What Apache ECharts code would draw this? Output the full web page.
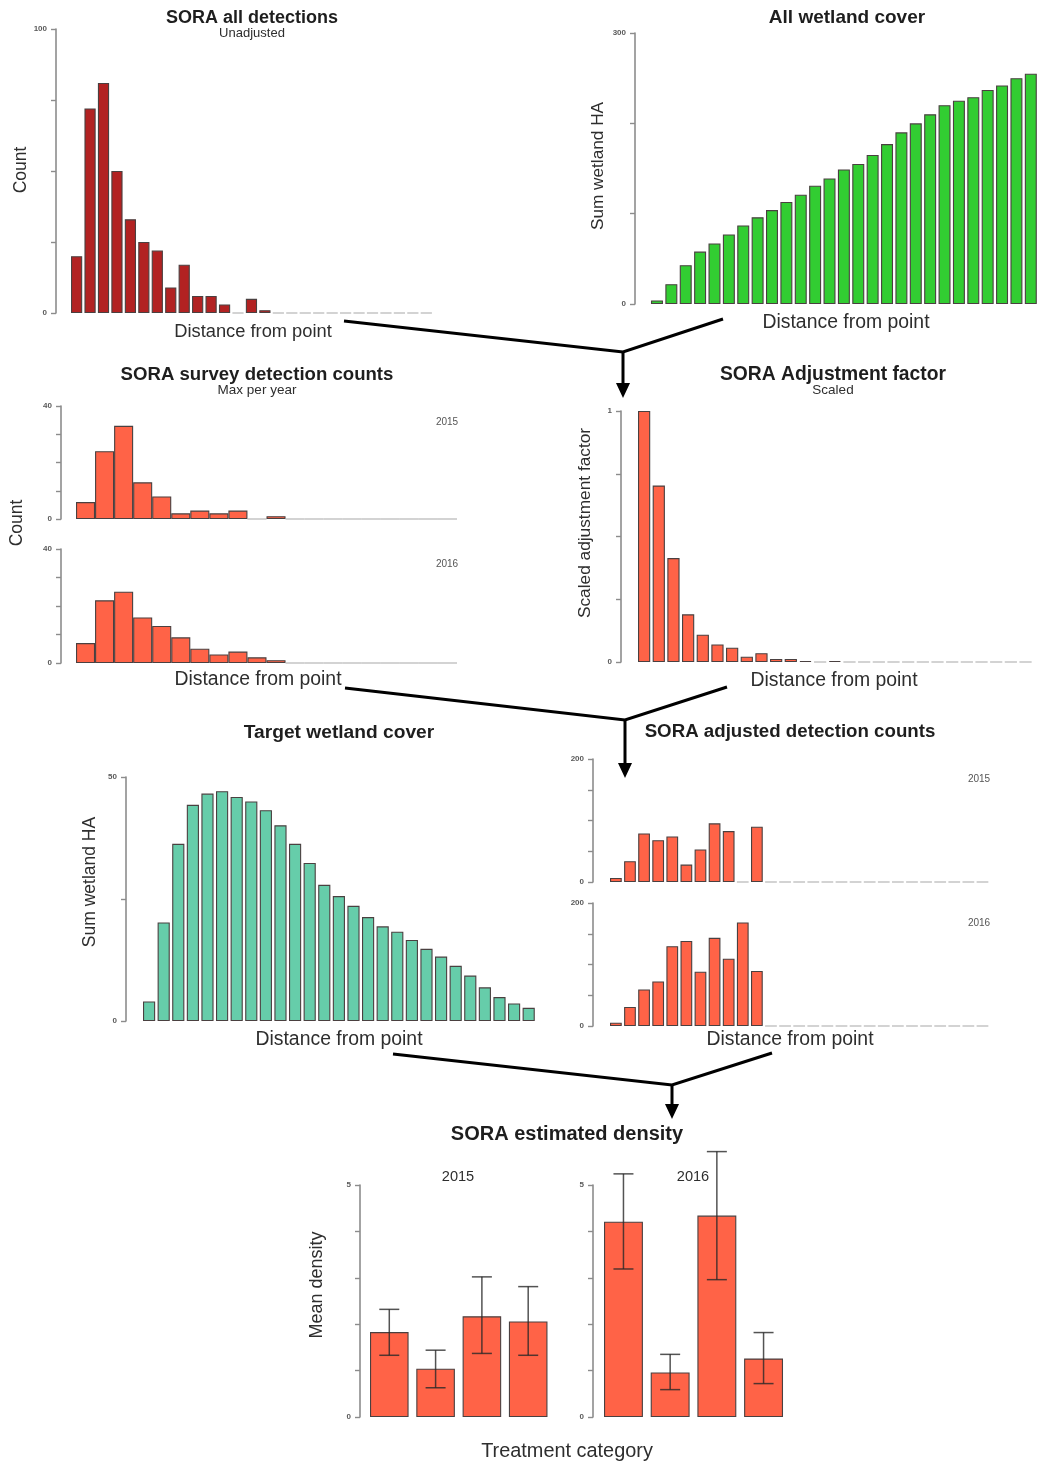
<!DOCTYPE html>
<html>
<head>
<meta charset="utf-8">
<script src="https://cdn.jsdelivr.net/npm/echarts@6/dist/echarts.min.js"></script>
<style>
  html, body { margin: 0; padding: 0; background: #fff; }
  #chart { width: 1038px; height: 1465px; }
</style>
</head>
<body>
<div id="chart"></div>
<script>
// ---- Data -------------------------------------------------------------
// distance bins (27 for wetland / detection rasters, 20 for survey histograms)
const distanceBins27 = ['1','2','3','4','5','6','7','8','9','10','11','12','13','14','15','16','17','18','19','20','21','22','23','24','25','26','27'];
const distanceBins20 = ['1','2','3','4','5','6','7','8','9','10','11','12','13','14','15','16','17','18','19','20'];
const treatments = ['T1', 'T2', 'T3', 'T4'];

const allDetections = [20, 72, 81, 50, 33, 25, 22, 9, 17, 6, 6, 3, 0, 5, 1, 0, 0, 0, 0, 0, 0, 0, 0, 0, 0, 0, 0];
const allWetland = [4, 22, 43, 58, 67, 77, 87, 96, 104, 113, 121, 131, 139, 149, 155, 165, 177, 190, 200, 210, 220, 225, 229, 237, 242, 250, 255];

const survey2015 = [6, 24, 33, 13, 8, 2, 3, 2, 3, 0, 1, 0, 0, 0, 0, 0, 0, 0, 0, 0];
const survey2016 = [7, 22, 25, 16, 13, 9, 5, 3, 4, 2, 1, 0, 0, 0, 0, 0, 0, 0, 0, 0];

const adjustmentFactor = [1.0, 0.703, 0.414, 0.19, 0.109, 0.07, 0.057, 0.021, 0.035, 0.012, 0.012, 0.004, 0, 0.004, 0, 0, 0, 0, 0, 0, 0, 0, 0, 0, 0, 0, 0];

const targetWetland = [4, 20.2, 36.3, 44.3, 46.6, 47.1, 45.9, 45.0, 43.2, 40.1, 36.3, 32.4, 27.9, 25.6, 23.6, 21.3, 19.4, 18.3, 16.6, 14.8, 13.2, 11.3, 9.3, 6.9, 4.9, 3.6, 2.7];

const adjusted2015 = [6.5, 33.8, 79, 68, 74, 28.3, 52.9, 95.4, 82.8, 0, 89.9, 0, 0, 0, 0, 0, 0, 0, 0, 0, 0, 0, 0, 0, 0, 0, 0];
const adjusted2016 = [5.4, 31, 59.4, 72.5, 129.7, 138.4, 88.3, 143.3, 109.5, 168.4, 89.4, 0, 0, 0, 0, 0, 0, 0, 0, 0, 0, 0, 0, 0, 0, 0, 0];

const density2015 = [1.83, 1.04, 2.17, 2.06];
const density2015Lo = [1.33, 0.63, 1.37, 1.33];
const density2015Hi = [2.32, 1.44, 3.02, 2.81];
const density2016 = [4.21, 0.96, 4.34, 1.26];
const density2016Lo = [3.19, 0.59, 2.96, 0.72];
const density2016Hi = [5.24, 1.35, 5.72, 1.82];

// ---- Styling ----------------------------------------------------------
const FONT = "'Liberation Sans', Arial, sans-serif";
const C_FIREBRICK = '#B22222';
const C_LIME = '#32CD32';
const C_TOMATO = '#FF6347';
const C_AQUA = '#66CDAA';
const BORDER = '#4a4040';
const ZERO_BORDER = '#a8a8a8';
const AXIS_GREY = '#8c8c8c';

const R_GAP = 0.2 / 1.2; // R barplot space = 0.2

// panel geometry: y-axis position, first bar left edge, slot width, bar count
function panel(axisX, firstBar, slot, n, top, bottom, gap) {
  const left = firstBar - slot * gap / 2;
  return {
    grid: { left: left, top: top, width: n * slot, height: bottom - top, containLabel: false },
    offset: left - axisX
  };
}

const panels = [
  panel(56, 71, 13.45, 27, 29, 313, R_GAP),    // 0 all detections
  panel(635, 651, 14.6, 27, 33, 304, R_GAP),   // 1 all wetland cover
  panel(61, 76, 19.05, 20, 406, 519, 0),       // 2 survey 2015
  panel(61, 76, 19.05, 20, 549, 663, 0),       // 3 survey 2016
  panel(621, 638, 14.67, 27, 411, 662, R_GAP), // 4 adjustment factor
  panel(126, 143, 14.6, 27, 777, 1021, R_GAP), // 5 target wetland
  panel(593, 610, 14.1, 27, 759, 882, R_GAP),  // 6 adjusted 2015
  panel(593, 610, 14.1, 27, 903, 1026, R_GAP), // 7 adjusted 2016
  panel(360, 370, 46.3, 4, 1185, 1417, R_GAP), // 8 density 2015
  panel(593, 604, 46.7, 4, 1185, 1417, R_GAP)  // 9 density 2016
];

const yScales = [
  [100, 25], [300, 100], [40, 10], [40, 10], [1, 0.25],
  [50, 25], [200, 50], [200, 50], [5, 1], [5, 1]
];
const xCats = [
  distanceBins27, distanceBins27, distanceBins20, distanceBins20, distanceBins27,
  distanceBins27, distanceBins27, distanceBins27, treatments, treatments
];

const grids = panels.map(p => p.grid);

const xAxes = xCats.map((cats, i) => ({
  type: 'category', gridIndex: i, data: cats, show: false, boundaryGap: true
}));

const yAxes = yScales.map(([max, step], i) => ({
  type: 'value', gridIndex: i, min: 0, max: max, interval: step,
  offset: panels[i].offset,
  axisLine: { show: true, lineStyle: { color: AXIS_GREY, width: 1.6 } },
  axisTick: { show: true, length: 5, lineStyle: { color: AXIS_GREY, width: 1.4 } },
  splitLine: { show: false },
  axisLabel: {
    show: true, margin: 9, fontSize: 8, fontWeight: 'bold', color: '#5a5a5a', fontFamily: FONT,
    formatter: v => (v === 0 || Math.abs(v - max) < 1e-9) ? String(v) : ''
  }
}));

function barData(values) {
  return values.map(v => v === 0 ? { value: 0, itemStyle: { borderColor: ZERO_BORDER } } : v);
}

function barSeries(idx, values, color, gap) {
  return {
    type: 'bar', xAxisIndex: idx, yAxisIndex: idx, z: 2,
    data: barData(values),
    barCategoryGap: gap === 0 ? '0%' : (R_GAP * 100).toFixed(2) + '%',
    itemStyle: { color: color, borderColor: BORDER, borderWidth: 1.1 },
    silent: true, animation: false
  };
}

// whiskers drawn above the bars, allowed to run past the axis maximum
function errorSeries(idx, lo, hi) {
  return {
    type: 'custom', xAxisIndex: idx, yAxisIndex: idx, z: 10, clip: false, silent: true, animation: false,
    data: lo.map((l, i) => [i, l, hi[i]]),
    encode: { x: 0, y: [1, 2] },
    renderItem: function (params, api) {
      const pLo = api.coord([api.value(0), api.value(1)]);
      const pHi = api.coord([api.value(0), api.value(2)]);
      const half = 10;
      const st = { stroke: 'rgba(40,40,40,0.8)', lineWidth: 1.5 };
      return {
        type: 'group',
        children: [
          { type: 'line', shape: { x1: pLo[0], y1: pLo[1], x2: pHi[0], y2: pHi[1] }, style: st },
          { type: 'line', shape: { x1: pLo[0] - half, y1: pLo[1], x2: pLo[0] + half, y2: pLo[1] }, style: st },
          { type: 'line', shape: { x1: pHi[0] - half, y1: pHi[1], x2: pHi[0] + half, y2: pHi[1] }, style: st }
        ]
      };
    }
  };
}

const series = [
  barSeries(0, allDetections, C_FIREBRICK, R_GAP),
  barSeries(1, allWetland, C_LIME, R_GAP),
  barSeries(2, survey2015, C_TOMATO, 0),
  barSeries(3, survey2016, C_TOMATO, 0),
  barSeries(4, adjustmentFactor, C_TOMATO, R_GAP),
  barSeries(5, targetWetland, C_AQUA, R_GAP),
  barSeries(6, adjusted2015, C_TOMATO, R_GAP),
  barSeries(7, adjusted2016, C_TOMATO, R_GAP),
  barSeries(8, density2015, C_TOMATO, R_GAP),
  barSeries(9, density2016, C_TOMATO, R_GAP),
  errorSeries(8, density2015Lo, density2015Hi),
  errorSeries(9, density2016Lo, density2016Hi)
];

// ---- Text and flow arrows ---------------------------------------------
function label(text, x, y, size, opts) {
  opts = opts || {};
  return {
    type: 'text', x: x, y: y, rotation: opts.rotate ? Math.PI / 2 : 0, silent: true,
    style: {
      text: text, x: 0, y: 0, align: 'center', verticalAlign: 'middle',
      fontFamily: FONT, fontSize: size, fontWeight: opts.bold ? 'bold' : 'normal',
      fill: opts.color || (opts.bold ? '#1e1e1e' : '#2e2e2e')
    }
  };
}

function connector(left, mid, right, tipY) {
  const st = { stroke: '#000', lineWidth: 3, lineJoin: 'miter', fill: null };
  return [
    { type: 'polyline', silent: true, shape: { points: [left, mid, right] }, style: st },
    { type: 'line', silent: true, shape: { x1: mid[0], y1: mid[1], x2: mid[0], y2: tipY - 12 }, style: st },
    { type: 'polygon', silent: true, shape: { points: [[mid[0] - 7, tipY - 15], [mid[0] + 7, tipY - 15], [mid[0], tipY]] }, style: { fill: '#000' } }
  ];
}

const graphics = [
  // top row
  label('SORA all detections', 252, 18, 18, { bold: true }),
  label('Unadjusted', 252, 33, 13),
  label('Count', 21, 170, 17.5, { rotate: true }),
  label('Distance from point', 253, 332, 18.3),
  label('All wetland cover', 847, 18, 19, { bold: true }),
  label('Sum wetland HA', 598, 166, 17.2, { rotate: true }),
  label('Distance from point', 846, 323, 19.4),
  // second row
  label('SORA survey detection counts', 257, 375, 18.6, { bold: true }),
  label('Max per year', 257, 390, 13.5),
  label('Count', 17, 523, 17.5, { rotate: true }),
  label('2015', 447, 422, 10, { color: '#555' }),
  label('2016', 447, 564, 10, { color: '#555' }),
  label('Distance from point', 258, 680, 19.4),
  label('SORA Adjustment factor', 833, 375, 19.3, { bold: true }),
  label('Scaled', 833, 390, 13.5),
  label('Scaled adjustment factor', 585, 523, 17.3, { rotate: true }),
  label('Distance from point', 834, 681, 19.4),
  // third row
  label('Target wetland cover', 339, 733, 19.2, { bold: true }),
  label('Sum wetland HA', 90, 882, 17.5, { rotate: true }),
  label('Distance from point', 339, 1040, 19.4),
  label('SORA adjusted detection counts', 790, 732, 18.7, { bold: true }),
  label('2015', 979, 779, 10, { color: '#555' }),
  label('2016', 979, 923, 10, { color: '#555' }),
  label('Distance from point', 790, 1040, 19.4),
  // bottom row
  label('SORA estimated density', 567, 1134, 20, { bold: true }),
  label('2015', 458, 1177, 14.6),
  label('2016', 693, 1177, 14.6),
  label('Mean density', 317, 1285, 18, { rotate: true }),
  label('Treatment category', 567, 1452, 19.9)
].concat(
  connector([344, 321], [623, 352], [723, 319], 398),
  connector([345, 688], [625, 720], [727, 687], 778),
  connector([393, 1054], [672, 1085], [772, 1053], 1119)
);

const chart = echarts.init(document.getElementById('chart'), null, { renderer: 'canvas' });
chart.setOption({
  backgroundColor: '#ffffff',
  animation: false,
  grid: grids,
  xAxis: xAxes,
  yAxis: yAxes,
  series: series,
  graphic: { elements: graphics }
});
</script>
</body>
</html>
